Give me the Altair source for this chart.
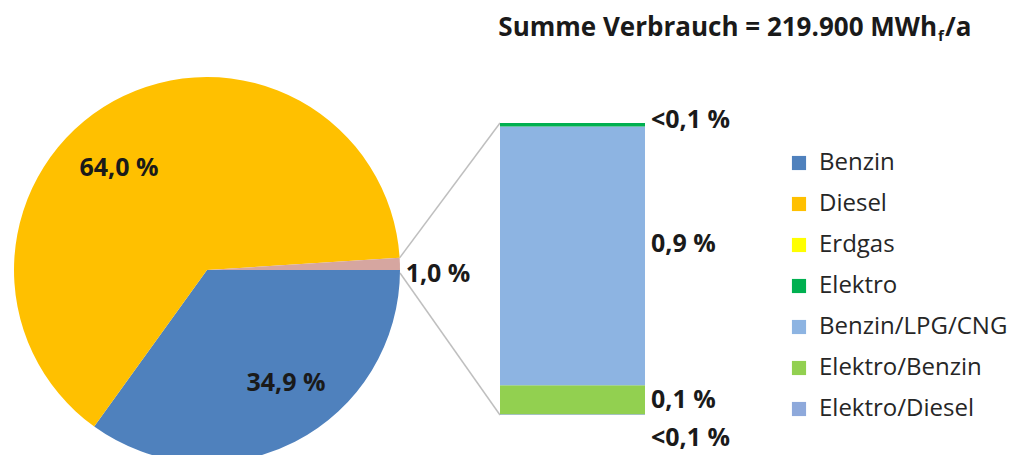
import math
import altair as alt
import pandas as pd

# ---------------- data ----------------
pie_cats = ["Benzin", "Diesel", "Sonstige"]
pie_vals = [34.9, 64.0, 1.0]
pie_labels = ["34,9 %", "64,0 %", "1,0 %"]

bar_cats = ["Elektro/Diesel", "Elektro/Benzin", "Benzin/LPG/CNG", "Elektro", "Erdgas"]
bar_vals = [0.003, 0.1, 0.9, 0.012, 0.0]
bar_labels = ["<0,1 %", "0,1 %", "0,9 %", "<0,1 %", ""]

legend_cats = ["Benzin", "Diesel", "Erdgas", "Elektro", "Benzin/LPG/CNG",
               "Elektro/Benzin", "Elektro/Diesel"]
legend_colors = ["#4F81BD", "#FFC000", "#FFFF00", "#00B050", "#8DB4E2",
                 "#92D050", "#8EA9DB"]
other_color = "#D6A6A0"

title_main = "Summe Verbrauch = 219.900 MWh"
title_sub = "f"
title_tail = "/a"

# ---------------- layout (plot-area pixels) ----------------
W, H = 1010, 447
CX, CY, R = 199, 262, 193
BAR_X0, BAR_X1 = 492, 637
BAR_TOP, BAR_BOT = 115, 407
FONT = "Open Sans"
FS = 25
TXT = "#1a1a1a"

pie_label_xy = {"Benzin": (278, 375), "Diesel": (111, 160), "Sonstige": (430, 266)}
bar_label_nudge = {0: -0.082, 2: 0.04, 3: 0.018}

# ---------------- tables ----------------
pie_df = pd.DataFrame({"cat": pie_cats, "value": pie_vals, "ord": range(len(pie_cats)),
                       "label": pie_labels})
pie_df["lx"] = [pie_label_xy[c][0] for c in pie_cats]
pie_df["ly"] = [pie_label_xy[c][1] for c in pie_cats]

starts, ends, mids = [], [], []
acc = 0.0
for v in bar_vals:
    starts.append(acc)
    acc += v
    ends.append(acc)
    mids.append(acc - v / 2)
total_bar = acc
bar_df = pd.DataFrame({"cat": bar_cats, "start": starts, "end": ends,
                       "label": bar_labels})
bar_df["ly"] = [m + bar_label_nudge.get(i, 0.0) for i, m in enumerate(mids)]
bar_df = bar_df[bar_df["cat"] != "Erdgas"]

ppu = (BAR_BOT - BAR_TOP) / total_bar
ydom = [-(H - BAR_BOT) / ppu, total_bar + BAR_TOP / ppu]
yscale = alt.Scale(domain=ydom, range=[H, 0], nice=False, zero=False)

color_scale = alt.Scale(domain=legend_cats, range=legend_colors)
legend = alt.Legend(orient="none", legendX=779, legendY=143, title=None,
                    symbolType="square", symbolSize=200, symbolStrokeWidth=0,
                    labelFont=FONT, labelFontSize=24, labelColor="#262626",
                    labelOffset=8, rowPadding=17, padding=0, labelLimit=400)

# pie edge points of the "other" slice
frac_other = pie_vals[-1] / sum(pie_vals)
th1 = math.pi / 2 - 2 * math.pi * frac_other
th2 = math.pi / 2
p1 = (CX + R * math.sin(th1), CY - R * math.cos(th1))
p2 = (CX + R * math.sin(th2), CY - R * math.cos(th2))

# ---------------- layers ----------------
pie = alt.Chart(pie_df).mark_arc(radius=R, stroke=None).encode(
    theta=alt.Theta("value:Q", stack=True,
                    scale=alt.Scale(range=[math.pi / 2, math.pi / 2 + 2 * math.pi])),
    order=alt.Order("ord:Q"),
    color=alt.condition(alt.datum.cat == "Sonstige", alt.value(other_color),
                        alt.Color("cat:N", scale=color_scale, legend=legend)),
    x=alt.value(CX), y=alt.value(CY),
)

bars = alt.Chart(bar_df).mark_rect().encode(
    x=alt.value(BAR_X0), x2=alt.value(BAR_X1),
    y=alt.Y("start:Q", scale=yscale, axis=None), y2="end:Q",
    color=alt.Color("cat:N", scale=color_scale, legend=legend),
)

conn_df = pd.DataFrame({"yb": [total_bar, 0.0], "px": [p1[0], p2[0]], "py": [p1[1], p2[1]]})
conn_top = alt.Chart(conn_df.iloc[[0]]).mark_rule(color="#BFBFBF", strokeWidth=1.5).encode(
    x=alt.value(BAR_X0), y=alt.Y("yb:Q", scale=yscale, axis=None),
    x2=alt.value(p1[0]), y2=alt.value(p1[1]))
conn_bot = alt.Chart(conn_df.iloc[[1]]).mark_rule(color="#BFBFBF", strokeWidth=1.5).encode(
    x=alt.value(BAR_X0), y=alt.Y("yb:Q", scale=yscale, axis=None),
    x2=alt.value(p2[0]), y2=alt.value(p2[1] + 3))

pie_text = alt.Chart(pie_df).mark_text(font=FONT, fontSize=FS, fontWeight="bold",
                                       color=TXT, align="center", baseline="middle").encode(
    x=alt.X("lx:Q", scale=None), y=alt.Y("ly:Q", scale=None), text="label:N")

bar_text = alt.Chart(bar_df).mark_text(font=FONT, fontSize=FS, fontWeight="bold",
                                       color=TXT, align="left", baseline="middle").encode(
    x=alt.value(643), y=alt.Y("ly:Q", scale=yscale, axis=None), text="label:N")

t_df = pd.DataFrame({"a": [title_main], "b": [title_sub], "c": [title_tail]})
TX, TY = 929, 28
TFS = 26
t1 = alt.Chart(t_df).mark_text(font=FONT, fontSize=TFS, fontWeight="bold", color=TXT,
                               align="right", baseline="alphabetic").encode(
    x=alt.value(TX), y=alt.value(TY), text="a:N")
t2 = alt.Chart(t_df).mark_text(font=FONT, fontSize=15, fontWeight="bold", color=TXT,
                               align="left", baseline="alphabetic").encode(
    x=alt.value(TX + 1), y=alt.value(TY + 5), text="b:N")
t3 = alt.Chart(t_df).mark_text(font=FONT, fontSize=TFS, fontWeight="bold", color=TXT,
                               align="left", baseline="alphabetic").encode(
    x=alt.value(TX + 8), y=alt.value(TY), text="c:N")

chart = alt.layer(conn_top, conn_bot, pie, bars, pie_text, bar_text, t1, t2, t3).properties(
    width=W, height=H, padding=0, autosize="none"
).resolve_scale(y="shared").configure_view(stroke=None)

chart.save("out.html", embed_options={"renderer": "svg", "actions": False})
